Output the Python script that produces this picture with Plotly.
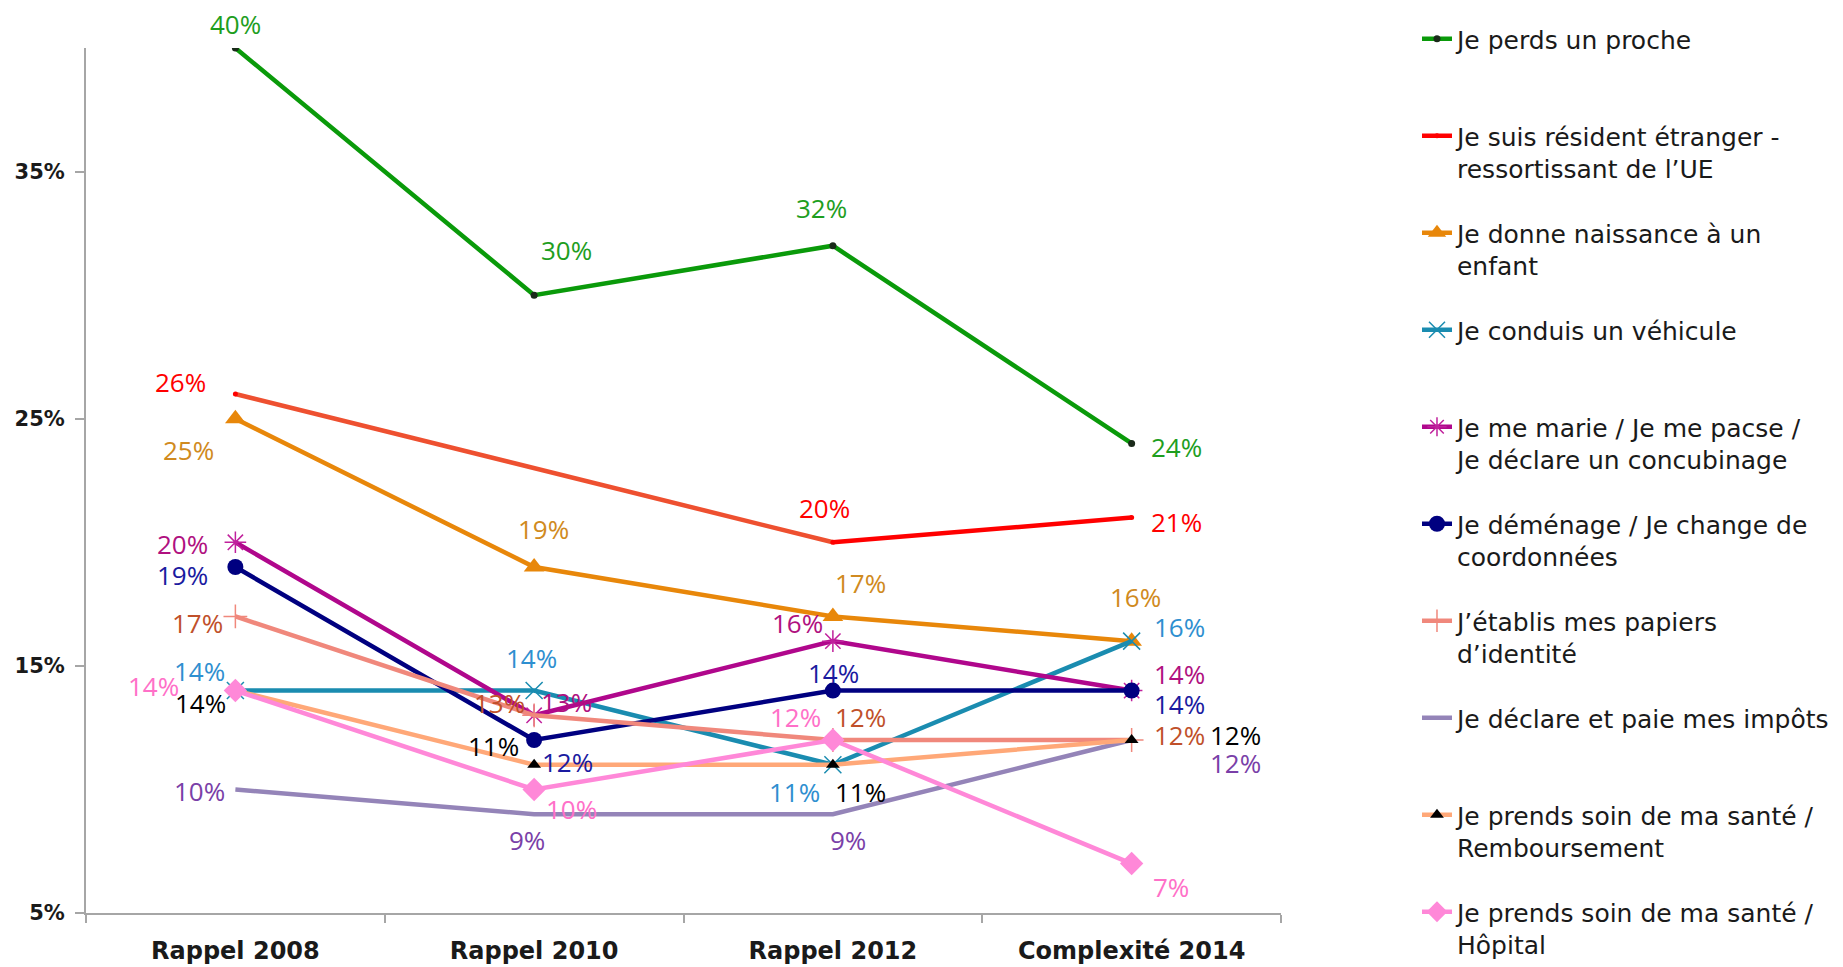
import plotly.graph_objects as go

categories = ["Rappel 2008", "Rappel 2010", "Rappel 2012", "Complexité 2014"]

series_names = [
    "Je perds un proche",
    "Je suis résident étranger -<br>ressortissant de l’UE",
    "Je donne naissance à un<br>enfant",
    "Je conduis un véhicule",
    "Je me marie / Je me pacse /<br>Je déclare un concubinage",
    "Je déménage / Je change de<br>coordonnées",
    "J’établis mes papiers<br>d’identité",
    "Je déclare et paie mes impôts",
    "Je prends soin de ma santé /<br>Remboursement",
    "Je prends soin de ma santé /<br>Hôpital",
]

proche = [40, 30, 32, 24]
resident = [26, None, 20, 21]
naissance = [25, 19, 17, 16]
vehicule = [14, 14, 11, 16]
mariage = [20, 13, 16, 14]
demenage = [19, 12, 14, 14]
papiers = [17, 13, 12, 12]
impots = [10, 9, 9, 12]
remboursement = [14, 11, 11, 12]
hopital = [14, 10, 12, 7]

values = [proche, resident, naissance, vehicule, mariage, demenage,
          papiers, impots, remboursement, hopital]

# styles
line_colors = ["#0A9A0A", "#FF0000", "#E8870A", "#1A8CB0", "#B0078C",
               "#000080", "#F0887C", "#9484B8", "#FFA878", "#FF88D8"]
label_colors = ["#1E9E1E", "#FF0000", "#D08A20", "#2E8FD0", "#B0107F",
                "#1A1AA0", "#C0502A", "#7A3FA8", "#000000", "#FF70C8"]
markers = [
    dict(symbol="circle", size=7, color="#1A2A1A"),
    dict(symbol="circle", size=5, color="#FF0000"),
    dict(symbol="triangle-up", size=18, color="#E8870A"),
    dict(symbol="x-thin-open", size=17, color="#1A8CB0", line=dict(width=1.5, color="#1A8CB0")),
    dict(symbol="asterisk-open", size=18, color="#C0209C", line=dict(width=1.5, color="#C0209C")),
    dict(symbol="circle", size=16, color="#000080"),
    dict(symbol="cross-thin-open", size=17, color="#F0887C", line=dict(width=1.5, color="#F0887C")),
    None,
    dict(symbol="triangle-up", size=12, color="#000000"),
    dict(symbol="diamond", size=18, color="#FF88D8"),
]
# label offsets (dx, dy) in screen pixels, dy positive = downward
offsets = [
    [(0, -24), (32, -45), (-11, -38), (45, 4)],
    [(-55, -12), None, (-8, -34), (45, 4)],
    [(-47, 31), (9, -38), (28, -33), (4, -44)],
    [(-36, -20), (-3, -33), (-38, 27), (48, -14)],
    [(-53, 2), (32, -13), (-35, -18), (48, -17)],
    [(-53, 8), (33, 22), (1, -18), (48, 13)],
    [(-38, 7), (-35, -12), (28, -23), (48, -5)],
    [(-36, 2), (-7, 26), (15, 26), (104, 23)],
    [(-35, 12), (-41, -19), (28, 27), (104, -5)],
    [(-82, -5), (37, 20), (-37, -23), (39, 23)],
]

fig = go.Figure()

# connecting segment of the foreign-resident series across the missing 2010 value
fig.add_trace(go.Scatter(
    x=categories[:3], y=resident[:3], mode="lines", connectgaps=True,
    line=dict(color="#EE5030", width=4.5), showlegend=False, hoverinfo="skip"))

for i, (name, vals) in enumerate(zip(series_names, values)):
    disp = name if "<br>" in name else name + "<br>&nbsp;"
    mk = markers[i]
    fig.add_trace(go.Scatter(
        x=categories, y=vals, name=disp, legendgroup=f"g{i}",
        mode="lines+markers" if mk else "lines",
        connectgaps=False,
        line=dict(color=line_colors[i], width=4.5),
        marker=mk if mk else None,
    ))

annotations = []
for i, vals in enumerate(values):
    for j, v in enumerate(vals):
        if v is None:
            continue
        dx, dy = offsets[i][j]
        annotations.append(dict(
            x=categories[j], y=v, xref="x", yref="y", text=f"{v}%",
            showarrow=False, xanchor="center", yanchor="middle",
            xshift=dx, yshift=-dy,
            font=dict(family="Open Sans", size=26, color=label_colors[i])))

fig.update_layout(
    width=1843, height=967,
    margin=dict(l=86, r=562, t=0, b=0),
    paper_bgcolor="white", plot_bgcolor="white",
    annotations=annotations,
    legend=dict(
        x=1.1138, y=0.9741, xanchor="left", yanchor="top",
        font=dict(family="DejaVu Sans", size=25, color="#1A1A1A"),
        valign="top", tracegroupgap=29, bgcolor="rgba(0,0,0,0)",
    ),
    showlegend=True,
)
fig.update_xaxes(
    type="category", range=[-0.5, 3.5], showgrid=False, zeroline=False,
    showline=True, linecolor="#A6A6A6", linewidth=2, automargin=False,
    ticks="outside", tickson="boundaries", ticklen=8, tickcolor="#A6A6A6", tickwidth=2,
    tickfont=dict(family="DejaVu Sans", size=24, color="#1A1A1A"),
    tickprefix="<b>", ticksuffix="</b>", ticklabelstandoff=15,
)
fig.update_yaxes(
    domain=[0.05584, 0.95036], automargin=False,
    range=[5, 40], tickvals=[5, 15, 25, 35], ticktext=["<b>5%</b>", "<b>15%</b>", "<b>25%</b>", "<b>35%</b>"],
    showgrid=False, zeroline=False,
    showline=True, linecolor="#A6A6A6", linewidth=2,
    ticks="outside", ticklen=9, tickcolor="#A6A6A6", tickwidth=2,
    tickfont=dict(family="DejaVu Sans", size=21, color="#1A1A1A"),
    ticklabelstandoff=6,
)

fig.write_html("out.html", config={"displayModeBar": False},
               post_script="document.body.style.margin='0px';")
